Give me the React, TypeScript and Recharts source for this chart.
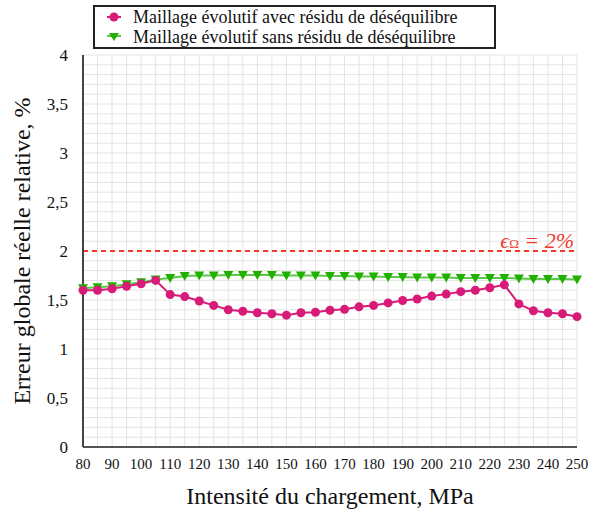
import { CartesianGrid, Line, LineChart, ReferenceLine, XAxis, YAxis } from "recharts";

const pressures = [
  80, 85, 90, 95, 100, 105, 110, 115, 120, 125, 130, 135, 140, 145, 150, 155, 160, 165,
  170, 175, 180, 185, 190, 195, 200, 205, 210, 215, 220, 225, 230, 235, 240, 245, 250,
];

const avecResidu = [
  1.6, 1.6, 1.615, 1.64, 1.665, 1.7, 1.555, 1.535, 1.49, 1.445, 1.4, 1.385, 1.37, 1.36,
  1.345, 1.37, 1.375, 1.395, 1.405, 1.43, 1.445, 1.47, 1.495, 1.51, 1.54, 1.56, 1.585,
  1.6, 1.625, 1.655, 1.46, 1.39, 1.37, 1.36, 1.33,
];

const sansResidu = [
  1.62, 1.63, 1.64, 1.66, 1.68, 1.71, 1.725, 1.745, 1.75, 1.75, 1.755, 1.755, 1.755,
  1.755, 1.75, 1.75, 1.75, 1.745, 1.745, 1.74, 1.74, 1.735, 1.735, 1.73, 1.73, 1.73,
  1.725, 1.725, 1.725, 1.725, 1.72, 1.715, 1.715, 1.715, 1.71,
];

const seriesNames = [
  "Maillage évolutif avec résidu de déséquilibre",
  "Maillage évolutif sans résidu de déséquilibre",
];

// grid every 5 MPa, labels every 10
const xTicks = pressures;
const xLabels = [80, 90, 100, 110, 120, 130, 140, 150, 160, 170, 180, 190, 200, 210, 220, 230, 240, 250];

// grid every 0.1, labels every 0.5
const yTicks = Array.from({ length: 41 }, (_, i) => i / 10);
const yLabels = ["0", "0,5", "1", "1,5", "2", "2,5", "3", "3,5", "4"];

const seuil = 2;

const data = pressures.map((p, i) => ({ p, avec: avecResidu[i], sans: sansResidu[i] }));

const PINK = "#d81b78";
const GREEN = "#22b000";
const GREEN_LINE = "#5cc84a";
const RED = "#ee3b2a";
const FONT = "Liberation Serif";

function Triangle(props: any) {
  const { cx, cy, index } = props;
  if (cx == null || cy == null) return null;
  return (
    <path
      key={`tri-${index}`}
      d={`M${cx - 5},${cy - 4} L${cx + 5},${cy - 4} L${cx},${cy + 5} Z`}
      fill={GREEN}
    />
  );
}

export default function App() {
  return (
    <div style={{ position: "absolute", left: 0, top: 0, width: 589, height: 516, fontFamily: FONT }}>
      <LineChart
        width={589}
        height={516}
        data={data}
        margin={{ top: 55, right: 12, bottom: 0, left: 0 }}
        style={{ fontFamily: FONT }}
      >
        <CartesianGrid stroke="#e4e4e4" strokeWidth={1} />
        <XAxis
          dataKey="p"
          type="number"
          domain={[80, 250]}
          ticks={xTicks}
          interval={0}
          height={69}
          tickLine={false}
          tickSize={0}
          tickMargin={11}
          axisLine={{ stroke: "#555", strokeWidth: 2 }}
          tick={{ fill: "#111", fontSize: 15, fontFamily: FONT }}
          tickFormatter={(v) => (xLabels.includes(v) ? String(v) : "")}
          label={{
            content: (props: any) => {
              const vb = props.viewBox;
              return (
                <text
                  x={vb.x + vb.width / 2}
                  y={vb.y + 57}
                  textAnchor="middle"
                  fontSize={24}
                  fontFamily={FONT}
                  fill="#111"
                >
                  Intensité du chargement, MPa
                </text>
              );
            },
          }}
        />
        <XAxis xAxisId="top" orientation="top" dataKey="p" type="number" domain={[80, 250]} height={0} tick={false} tickLine={false} axisLine={{ stroke: "#666", strokeWidth: 2 }} />
        <YAxis
          type="number"
          domain={[0, 4]}
          ticks={yTicks}
          interval={0}
          width={83}
          tickLine={false}
          tickSize={0}
          tickMargin={15}
          axisLine={{ stroke: "#444", strokeWidth: 2 }}
          tick={{ fill: "#111", fontSize: 17, fontFamily: FONT }}
          tickFormatter={(v) => {
            const k = Math.round(v * 10);
            return k % 5 === 0 ? yLabels[k / 5] : "";
          }}
          label={{
            content: (props: any) => {
              const vb = props.viewBox;
              const x = vb.x + 22;
              const y = vb.y + vb.height / 2;
              return (
                <text
                  x={x}
                  y={y}
                  transform={`rotate(-90, ${x}, ${y})`}
                  textAnchor="middle"
                  dominantBaseline="central"
                  fontSize={24}
                  fontFamily={FONT}
                  fill="#111"
                >
                  Erreur globale réelle relative, %
                </text>
              );
            },
          }}
        />
        <YAxis yAxisId="right" orientation="right" type="number" domain={[0, 4]} width={0} tick={false} tickLine={false} axisLine={{ stroke: "#666", strokeWidth: 2 }} />
        <ReferenceLine
          y={seuil}
          stroke={RED}
          strokeWidth={2}
          strokeDasharray="5 4"
          label={{
            content: (props: any) => {
              const vb = props.viewBox;
              return (
                <text
                  x={vb.x + vb.width - 3}
                  y={vb.y - 3}
                  textAnchor="end"
                  fontSize={22}
                  fontStyle="italic"
                  fontFamily={FONT}
                  fill={RED}
                >
                  <tspan>ϵ</tspan>
                  <tspan fontSize={13} fontStyle="normal">Ω</tspan>
                  <tspan> = 2%</tspan>
                </text>
              );
            },
          }}
        />
        <Line
          dataKey="sans"
          name={seriesNames[1]}
          stroke={GREEN_LINE}
          strokeWidth={2}
          dot={<Triangle />}
          isAnimationActive={false}
        />
        <Line
          dataKey="avec"
          name={seriesNames[0]}
          stroke={PINK}
          strokeWidth={2}
          dot={{ r: 4.5, fill: PINK, stroke: "none" }}
          isAnimationActive={false}
        />
      </LineChart>
      <div
        style={{
          position: "absolute",
          left: 93,
          top: 5,
          width: 403,
          height: 44,
          border: "2px solid #222",
          background: "#fff",
          fontSize: 18,
          color: "#111",
          paddingTop: 0,
          boxSizing: "border-box",
        }}
      >
        {seriesNames.map((name) => (
          <div key={name} style={{ display: "flex", alignItems: "center", height: 20, lineHeight: "20px" }}>
            <svg width={38} height={20}>
              {name === seriesNames[0] ? (
                <>
                  <line x1={12} x2={26} y1={10} y2={10} stroke={PINK} strokeWidth={2} />
                  <circle cx={19} cy={10} r={4.5} fill={PINK} />
                </>
              ) : (
                <>
                  <line x1={12} x2={26} y1={9} y2={9} stroke={GREEN_LINE} strokeWidth={2} />
                  <path d="M14,6 L24,6 L19,14 Z" fill={GREEN} />
                </>
              )}
            </svg>
            <span>{name}</span>
          </div>
        ))}
      </div>
    </div>
  );
}
